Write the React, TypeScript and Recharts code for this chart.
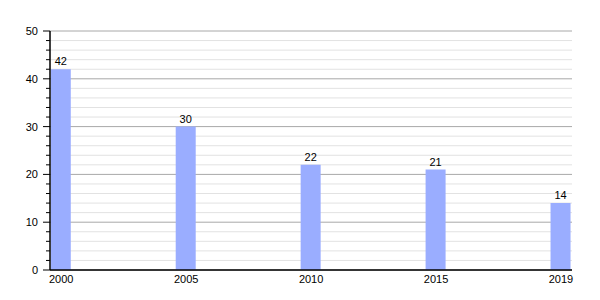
import React from "react";
import {
  BarChart, Bar, XAxis, YAxis, CartesianGrid, LabelList,
} from "recharts";

const years = ["2000", "2005", "2010", "2015", "2019"];
const counts = [42, 30, 22, 21, 14];
const majorTicks = [0, 10, 20, 30, 40, 50];
const minorTicks = [2, 4, 6, 8, 12, 14, 16, 18, 22, 24, 26, 28, 32, 34, 36, 38, 42, 44, 46, 48];

const data = years.map((year, i) => ({ idx: i, year, count: counts[i] }));
const allTicks = [...majorTicks, ...minorTicks].sort((a, b) => a - b);

const FONT = "Liberation Sans, Arial, sans-serif";

function YTick(props: any) {
  const { x, y, payload } = props;
  const major = payload.value % 10 === 0;
  return (
    <g>
      <line x1={x - (major ? 7 : 4)} x2={x} y1={y} y2={y} stroke="#000" strokeWidth={1} />
      {major && (
        <text x={x - 12} y={y} dy={4} textAnchor="end" fontSize={11} fontFamily={FONT} fill="#000">
          {payload.value}
        </text>
      )}
    </g>
  );
}

export default function App() {
  return (
    <div style={{ position: "absolute", left: 0, top: 0, background: "#fff" }}>
      <BarChart
        width={600}
        height={300}
        data={data}
        margin={{ top: 31, right: 28, bottom: 0, left: 0 }}
      >
        <CartesianGrid horizontalValues={minorTicks} vertical={false} stroke="#e2e2e2" />
        <CartesianGrid horizontalValues={majorTicks} vertical={false} stroke="#a8a8a8" />
        <XAxis
          type="number"
          dataKey="idx"
          domain={[-0.09, 4.088]}
          ticks={[0, 1, 2, 3, 4]}
          tickFormatter={(v: number) => years[v]}
          height={30}
          tickLine={false}
          axisLine={{ stroke: "#000", strokeWidth: 1.5 }}
          tick={{ fontSize: 11, fontFamily: FONT, fill: "#000", dy: -3 }}
          tickMargin={2}
          allowDataOverflow
        />
        <YAxis
          width={50}
          domain={[0, 50]}
          ticks={allTicks}
          interval={0}
          tickSize={0}
          tickMargin={0}
          tickLine={false}
          axisLine={{ stroke: "#000", strokeWidth: 1.5 }}
          tick={<YTick />}
        />
        <Bar dataKey="count" fill="#9aadff" barSize={20} isAnimationActive={false}>
          <LabelList
            dataKey="count"
            position="top"
            offset={4}
            fontSize={11}
            fontFamily={FONT}
            fill="#000"
          />
        </Bar>
      </BarChart>
    </div>
  );
}
